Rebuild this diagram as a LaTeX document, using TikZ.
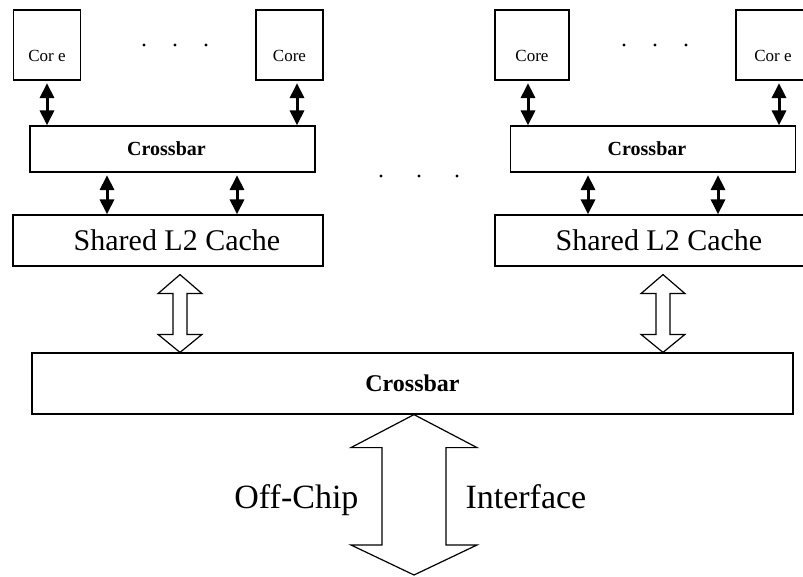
\documentclass[tikz,border=0pt]{standalone}
\usepackage{fontspec}
\setmainfont{Liberation Serif}
\usetikzlibrary{arrows.meta,calc}

% Outline of a hollow double-headed arrow between two points:
% #1 upper tip, #2 lower tip, #3 shaft half width, #4 head half width,
% #5 upper head length, #6 lower head length
\newcommand\hollowarrow[6]{%
  \draw[hollow] (#1) -- ($(#1)+(#4,#5)$) -- ($(#1)+(#3,#5)$)
    -- ($(#2)+(#3,-#6)$) -- ($(#2)+(#4,-#6)$) -- (#2)
    -- ($(#2)+(-#4,-#6)$) -- ($(#2)+(-#3,-#6)$)
    -- ($(#1)+(-#3,#5)$) -- ($(#1)+(-#4,#5)$) -- cycle;}

\begin{document}
\begin{tikzpicture}[x=1pt,y=-1pt,
  box/.style={draw,line width=1.2pt,inner sep=0pt},
  corebox/.style={box,minimum width=67pt,minimum height=70pt,
    text height=34pt,text depth=0pt,font=\fontsize{17}{17}\selectfont},
  xbarbox/.style={box,minimum width=285pt,minimum height=46pt,font=\fontsize{20}{20}\selectfont\bfseries},
  cachebox/.style={box,minimum width=310pt,minimum height=51pt,font=\fontsize{30}{30}\selectfont},
  link/.style={line width=3pt,shorten <=2.5pt,
    {Triangle[width=14pt,length=15pt]}-{Triangle[width=14pt,length=15pt]}},
  hollow/.style={line width=1.2pt,fill=white,line join=miter},
  dot/.style={circle,fill=black,inner sep=0pt,minimum size=3.4pt},
  label/.style={font=\fontsize{34}{34}\selectfont}]

\useasboundingbox (0,0) rectangle (803,577);
\clip (0,0) rectangle (803,577);

% ---- left cluster ----
\node[corebox] (c1) at (47,45) {Cor e};
\node[corebox] (c2) at (289.5,45) {Core};
\node[dot] (d1) at (144,45) {};
\node[dot] (d2) at (175,45) {};
\node[dot] (d3) at (206,45) {};
\node[xbarbox] (x1) at (172.5,149) {\hspace*{-12pt}Crossbar};
\node[cachebox] (l1) at (168,240.5) {\hspace*{18pt}Shared L2 Cache};

\draw[link] (c1.south) -- (c1.south |- x1.north);
\draw[link] ([xshift=7.5]c2.south) -- ([xshift=7.5]c2.south |- x1.north);
\draw[link] ([xshift=-65.5]x1.south) -- ([xshift=-65.5]x1.south |- l1.north);
\draw[link] ([xshift=64.5]x1.south) -- ([xshift=64.5]x1.south |- l1.north);

% ---- gap between clusters ----
\node[dot] (m1) at (381,176) {};
\node[dot] (m2) at (419,176) {};
\node[dot] (m3) at (457,176) {};

% ---- right cluster ----
\node[corebox,minimum width=74pt] (c3) at (532,45) {Core};
\node[corebox,minimum width=68pt] (c4) at (770,45) {\hspace*{6pt}Cor e};
\node[dot] (d4) at (624,45) {};
\node[dot] (d5) at (655,45) {};
\node[dot] (d6) at (686,45) {};
\node[xbarbox] (x2) at (653,149) {\hspace*{-12pt}Crossbar};
\node[cachebox] (l2) at (650,240.5) {\hspace*{18pt}Shared L2 Cache};

\draw[link] ([xshift=-4]c3.south) -- ([xshift=-4]c3.south |- x2.north);
\draw[link] ([xshift=9]c4.south) -- ([xshift=9]c4.south |- x2.north);
\draw[link] ([xshift=-65]x2.south) -- ([xshift=-65]x2.south |- l2.north);
\draw[link] ([xshift=65]x2.south) -- ([xshift=65]x2.south |- l2.north);

% ---- global crossbar ----
\node[box,minimum width=761pt,minimum height=61pt,font=\fontsize{24}{24}\selectfont\bfseries]
  (xg) at (412.5,383.5) {Crossbar};

\coordinate (u1) at ([xshift=12,yshift=-8]l1.south);
\coordinate (v1) at (u1 |- xg.north);
\hollowarrow{u1}{v1}{7}{22}{19}{18}
\coordinate (u2) at ([xshift=13,yshift=-8]l2.south);
\coordinate (v2) at (u2 |- xg.north);
\hollowarrow{u2}{v2}{7}{22}{19}{18}

% ---- off-chip link ----
\coordinate (bt) at ([xshift=1.5]xg.south);
\coordinate (bb) at (414,575);
\hollowarrow{bt}{bb}{32}{63}{33}{30}
\node[label,anchor=base east] (offchip) at (362,508) {Off-Chip};
\node[label,anchor=base west] (iface) at (462,508) {Interface};

\end{tikzpicture}
\end{document}
